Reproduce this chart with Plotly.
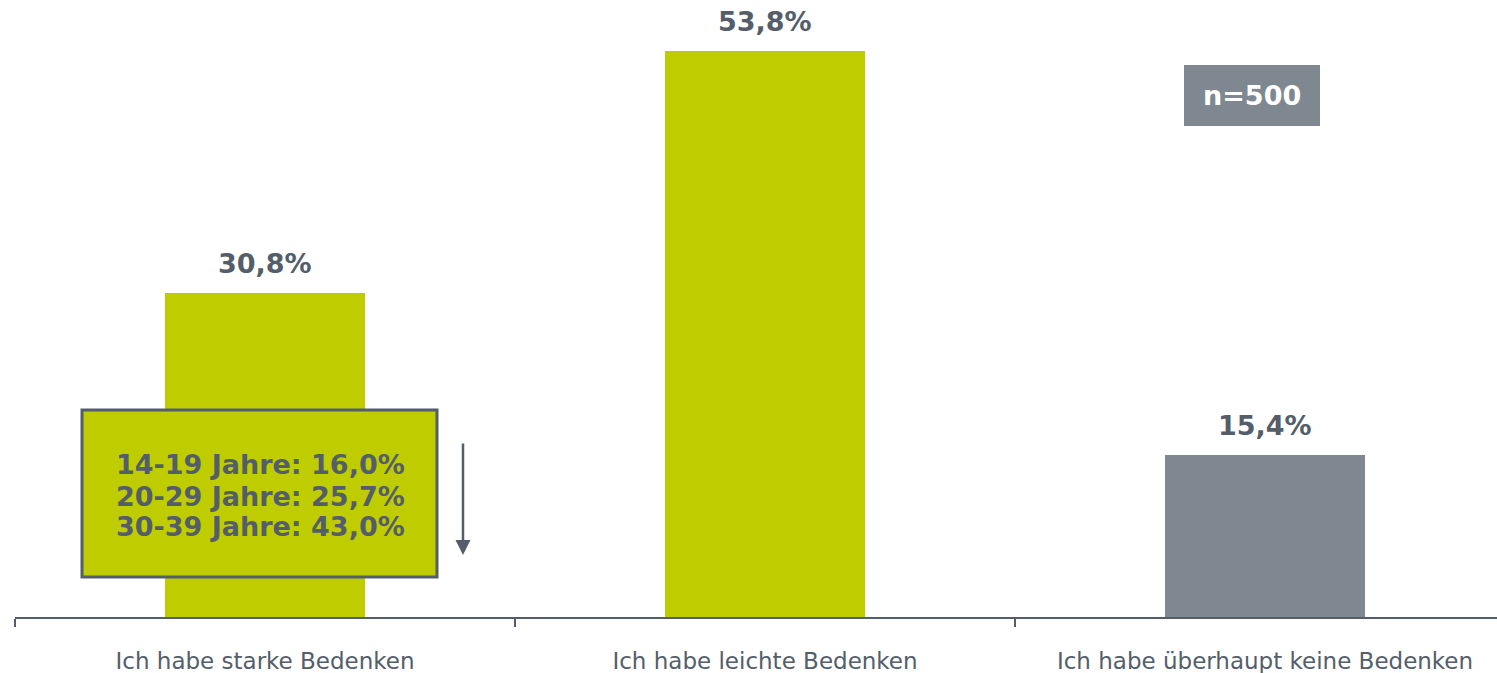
import plotly.graph_objects as go

categories = ["Ich habe starke Bedenken", "Ich habe leichte Bedenken", "Ich habe überhaupt keine Bedenken"]
values = [30.8, 53.8, 15.4]
value_labels = ["30,8%", "53,8%", "15,4%"]
bar_colors = ["#bfcd00", "#bfcd00", "#7f8891"]
age_groups = ["14-19 Jahre", "20-29 Jahre", "30-39 Jahre"]
age_values = ["16,0%", "25,7%", "43,0%"]
sample_label = "n=500"

DARK = "#535e6a"
LIME = "#bfcd00"

fig = go.Figure()
fig.add_trace(go.Bar(
    x=categories, y=values, marker=dict(color=bar_colors, line=dict(width=0)),
    width=0.4, hoverinfo="skip", showlegend=False,
))

for c, v, t in zip(categories, values, value_labels):
    fig.add_annotation(x=c, y=v, text=f"<b>{t}</b>", showarrow=False,
                       yanchor="bottom", yshift=12,
                       font=dict(family="DejaVu Sans", size=27, color=DARK))

# annotation box over first bar
fig.add_shape(type="rect", xref="x", yref="y", x0=-0.366, x1=0.344, y0=3.8, y1=19.68,
              fillcolor=LIME, line=dict(color=DARK, width=3), layer="above")
line_y = [14.45, 11.5, 8.56]
for a, b, yy in zip(age_groups, age_values, line_y):
    fig.add_annotation(x=-0.01, y=yy, xref="x", yref="y", text=f"<b>{a}: {b}</b>", showarrow=False,
                       font=dict(family="DejaVu Sans", size=27, color=DARK))

# arrow
fig.add_annotation(x=0.396, y=5.89, ax=0.396, ay=16.63, xref="x", yref="y", axref="x", ayref="y",
                   text="", showarrow=True, arrowhead=2, arrowsize=1.2, arrowwidth=2.5, arrowcolor=DARK)

# n=500 box
fig.add_shape(type="rect", xref="x", yref="y", x0=1.838, x1=2.11, y0=46.67, y1=52.47,
              fillcolor="#7f8790", line=dict(width=0), layer="above")
fig.add_annotation(x=1.974, y=49.57, xref="x", yref="y", text=f"<b>{sample_label}</b>", showarrow=False,
                   font=dict(family="DejaVu Sans", size=27, color="white"))

fig.update_layout(
    width=1497, height=673,
    margin=dict(l=15, r=0, t=0, b=56),
    paper_bgcolor="white", plot_bgcolor="white",
    bargap=0.6,
    xaxis=dict(type="category", range=[-0.5, 2.464], showline=True, linecolor=DARK, linewidth=2,
               ticks="outside", tickson="boundaries", ticklen=8, tickwidth=2, tickcolor=DARK,
               showgrid=False, ticklabelstandoff=22,
               tickfont=dict(family="DejaVu Sans", size=23, color=DARK)),
    yaxis=dict(range=[0, 58.65], visible=False, showgrid=False, zeroline=False),
)

fig.write_html("out.html", config={"displayModeBar": False},
               post_script="document.body.style.margin='0';document.body.style.overflow='hidden';")
